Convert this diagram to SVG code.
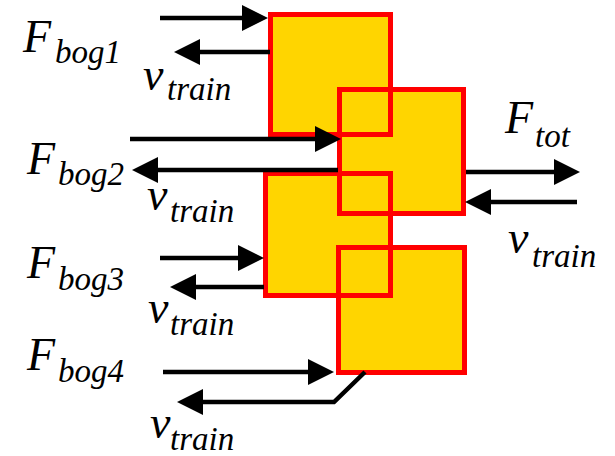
<svg xmlns="http://www.w3.org/2000/svg" width="615" height="456" viewBox="0 0 615 456">
<style>
.box{fill:#FFD500;stroke:#FF0000;stroke-width:5}
.edge{fill:none;stroke:#FF0000;stroke-width:5}
.con{fill:none;stroke:#000;stroke-width:4.5}
</style>
<defs>
<marker id="ah" markerUnits="userSpaceOnUse" markerWidth="26" markerHeight="26" refX="6" refY="13" orient="auto">
<path d="M0,0 L26,13 L0,26 Z" fill="#000"/>
</marker>
</defs>
<g id="bogie1"><rect class="box" x="270.5" y="14.5" width="120" height="120"/></g>
<g id="bogie2"><rect class="box" x="339.5" y="89.5" width="124" height="124"/></g>
<g id="bogie3"><rect class="box" x="265.5" y="173.5" width="125" height="122"/></g>
<g id="bogie4"><rect class="box" x="338.5" y="247.5" width="126" height="125"/></g>
<g id="outlines">
<rect class="edge" x="270.5" y="14.5" width="120" height="120"/>
<rect class="edge" x="339.5" y="89.5" width="124" height="124"/>
<rect class="edge" x="265.5" y="173.5" width="125" height="122"/>
<rect class="edge" x="338.5" y="247.5" width="126" height="125"/>
</g>
<g id="connectors">
<line class="con" x1="160" y1="18" x2="248" y2="18" marker-end="url(#ah)"/>
<line class="con" x1="270" y1="52" x2="194" y2="52" marker-end="url(#ah)"/>
<line class="con" x1="130" y1="139" x2="321" y2="139" marker-end="url(#ah)"/>
<line class="con" x1="338" y1="170" x2="152" y2="170" marker-end="url(#ah)"/>
<line class="con" x1="466" y1="172" x2="560" y2="172" marker-end="url(#ah)"/>
<line class="con" x1="577" y1="202" x2="485" y2="202" marker-end="url(#ah)"/>
<line class="con" x1="160" y1="258" x2="244" y2="258" marker-end="url(#ah)"/>
<line class="con" x1="264" y1="287" x2="190" y2="287" marker-end="url(#ah)"/>
<line class="con" x1="163" y1="372" x2="314" y2="372" marker-end="url(#ah)"/>
<polyline class="con" points="365,372 334,402 197,402" marker-end="url(#ah)"/>
</g>
<g id="labels">
<text font-family="Liberation Serif" font-style="italic" font-size="46" x="23" y="52">F</text><text font-family="Liberation Serif" font-style="italic" font-size="33" x="55" y="63">bog1</text>
<text font-family="Liberation Serif" font-style="italic" font-size="46" x="143" y="90">v</text><text font-family="Liberation Serif" font-style="italic" font-size="33" x="167" y="100">train</text>
<text font-family="Liberation Serif" font-style="italic" font-size="46" x="27" y="174">F</text><text font-family="Liberation Serif" font-style="italic" font-size="33" x="58" y="185">bog2</text>
<text font-family="Liberation Serif" font-style="italic" font-size="46" x="147" y="210">v</text><text font-family="Liberation Serif" font-style="italic" font-size="33" x="170" y="222">train</text>
<text font-family="Liberation Serif" font-style="italic" font-size="46" x="27" y="278">F</text><text font-family="Liberation Serif" font-style="italic" font-size="33" x="58" y="290">bog3</text>
<text font-family="Liberation Serif" font-style="italic" font-size="46" x="148" y="323">v</text><text font-family="Liberation Serif" font-style="italic" font-size="33" x="170" y="335">train</text>
<text font-family="Liberation Serif" font-style="italic" font-size="46" x="27" y="370">F</text><text font-family="Liberation Serif" font-style="italic" font-size="33" x="58" y="382">bog4</text>
<text font-family="Liberation Serif" font-style="italic" font-size="46" x="150" y="438">v</text><text font-family="Liberation Serif" font-style="italic" font-size="33" x="170" y="450">train</text>
<text font-family="Liberation Serif" font-style="italic" font-size="46" x="505" y="133">F</text><text font-family="Liberation Serif" font-style="italic" font-size="33" x="535" y="147">tot</text>
<text font-family="Liberation Serif" font-style="italic" font-size="46" x="508" y="253">v</text><text font-family="Liberation Serif" font-style="italic" font-size="33" x="532" y="267">train</text>
</g>
</svg>
